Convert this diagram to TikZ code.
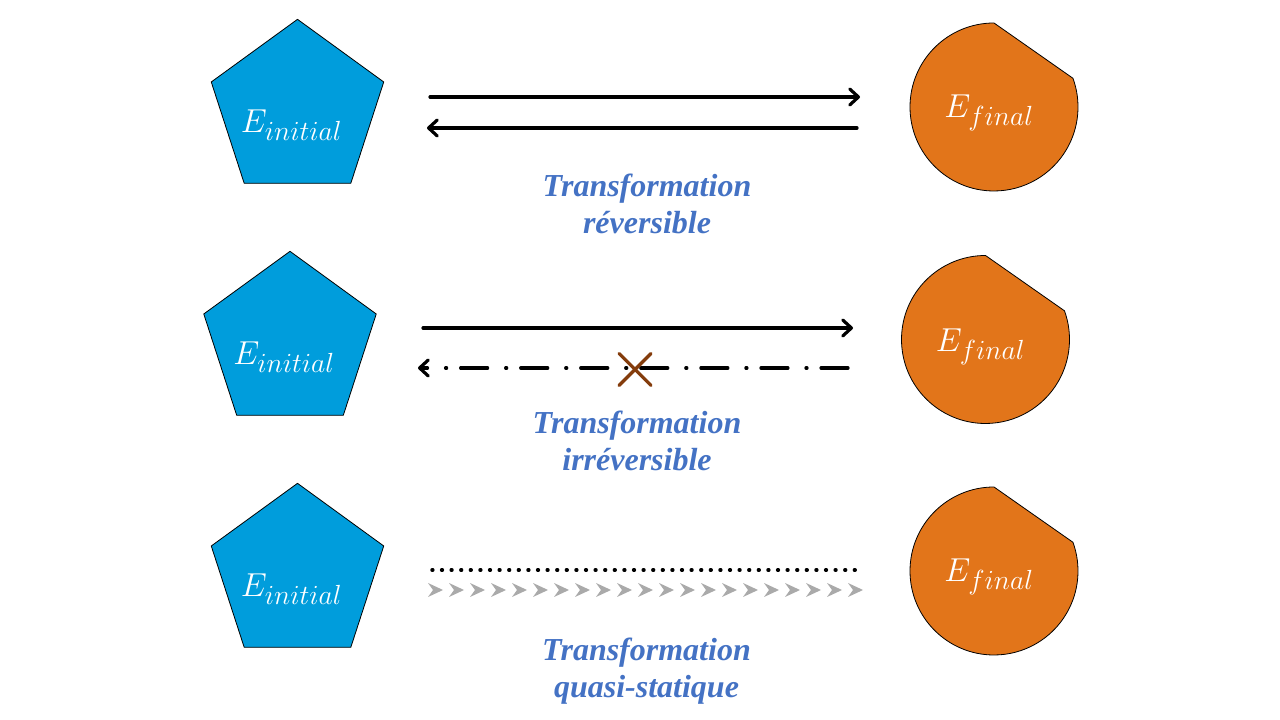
\documentclass[tikz,border=0pt]{standalone}
\usepackage{fontspec}
\setmainfont{Liberation Serif}
\usetikzlibrary{shapes.geometric}
\usetikzlibrary{arrows.meta}
\usetikzlibrary{calc}

\definecolor{pentablue}{RGB}{0,157,220}
\definecolor{finalorange}{RGB}{226,117,26}
\definecolor{labelblue}{RGB}{68,114,196}
\definecolor{crossbrown}{RGB}{132,60,12}
\definecolor{chevgray}{RGB}{170,170,170}

\begin{document}
\begin{tikzpicture}[x=0.75pt,y=0.75pt,
		pent/.style={regular polygon, regular polygon sides=5, minimum size=136pt, inner sep=0pt, fill=pentablue, draw=black, line width=0.6pt},
		roundstate/.style={fill=finalorange, draw=black, line width=0.6pt},
		statetext/.style={text=white, anchor=base, inner sep=0pt, font=\fontsize{31}{34}\selectfont},
		translabel/.style={text=labelblue, anchor=base, align=center, inner sep=0pt, font=\fontsize{24}{27.75}\selectfont\bfseries\itshape},
		arr/.style={line width=2.4pt, line cap=round, -{Straight Barb[length=6.5pt,width=12pt,round]}}
	]
		\useasboundingbox (0,0) rectangle (1280,720);
		% initial states
		\node[pent] (ini1) at (297.5,610) {};
		\node[pent] (ini2) at (290,378) {};
		\node[pent] (ini3) at (297.5,146) {};
		\node[statetext] (ini1txt) at (291.5,587) {$E_{initial}$};
		\node[statetext] (ini2txt) at (284,355) {$E_{initial}$};
		\node[statetext] (ini3txt) at (291.5,123) {$E_{initial}$};
		% final states
		\coordinate (fin1) at (994,613);
		\coordinate (fin2) at (985.5,380.5);
		\coordinate (fin3) at (994,149);
		\foreach \c in {fin1,fin2,fin3} {
		\filldraw[roundstate] ($(\c)+(90:84)$) arc[start angle=90, end angle=380, radius=84] -- cycle;
		}
		\node[statetext] (fin1txt) at (989,602) {$E_{final}$};
		\node[statetext] (fin2txt) at (980.5,368.5) {$E_{final}$};
		\node[statetext] (fin3txt) at (989,138) {$E_{final}$};
		% reversible
		\coordinate (r1a) at (430,623); \coordinate (r1b) at (860,623);
		\coordinate (r2a) at (857,592); \coordinate (r2b) at (427,592);
		\draw[arr] (r1a) -- (r1b);
		\draw[arr] (r2a) -- (r2b);
		\node[translabel] (rev) at (647,486) {Transformation\\réversible};
		% irreversible
		\coordinate (i1a) at (423,392); \coordinate (i1b) at (853,392);
		\coordinate (i2a) at (848,352); \coordinate (i2b) at (418,352);
		\draw[arr] (i1a) -- (i1b);
		\draw[arr, dash pattern=on 20.25pt off 10.5pt on 0.8pt off 13.5pt] (i2a) -- (i2b);
		\coordinate (cross) at (635,350.5);
		\draw[crossbrown, line width=2.4pt, line cap=round] ($(cross)+(-16,-16)$) -- ($(cross)+(16,16)$);
		\draw[crossbrown, line width=2.4pt, line cap=round] ($(cross)+(-16,16)$) -- ($(cross)+(16,-16)$);
		\node[translabel] (irr) at (637,249) {Transformation\\irréversible};
		% quasi-static
		\coordinate (q1a) at (432,150); \coordinate (q1b) at (857,150);
		\draw[line width=2.6pt, line cap=round, dash pattern=on 0.6pt off 6.6pt] (q1a) -- (q1b);
		\foreach \i in {0,...,20} {
		\fill[chevgray] (428+21*\i,137) -- ++(15,-7) -- ++(-15,-7) -- ++(5,7) -- cycle;
		}
		\node[translabel] (qs) at (646.5,22) {Transformation\\quasi-statique};
	\end{tikzpicture}
\end{document}
